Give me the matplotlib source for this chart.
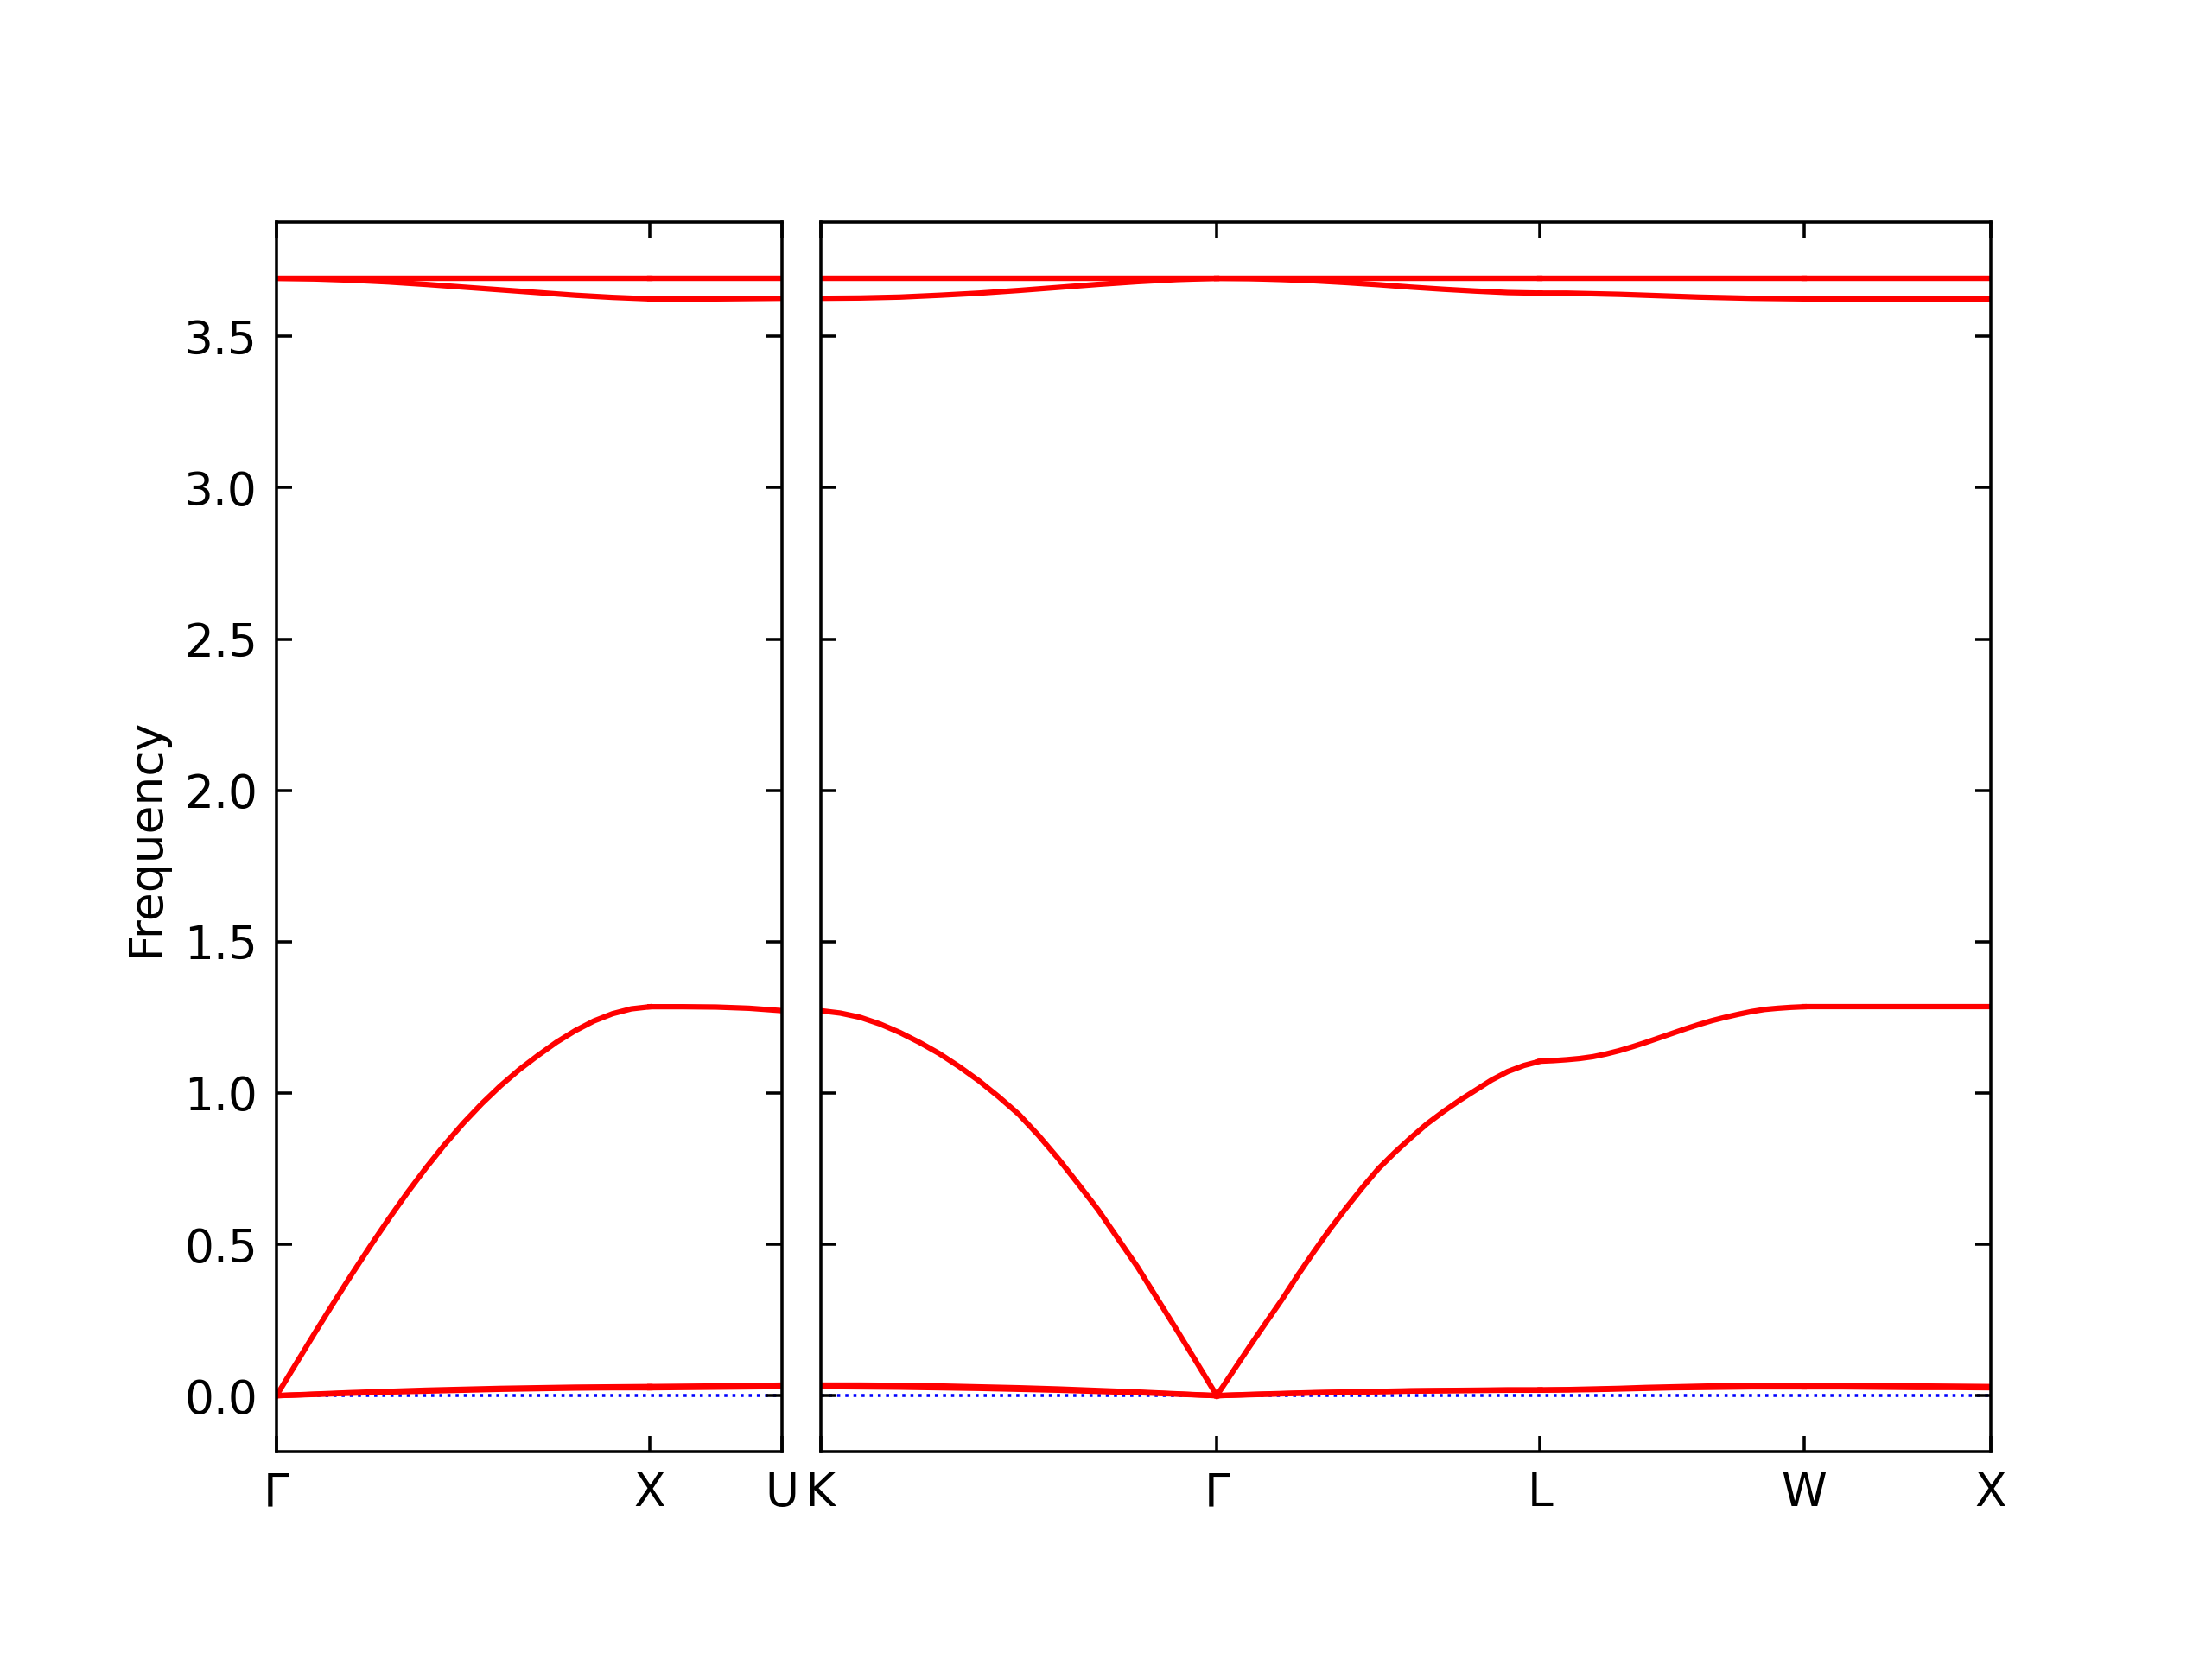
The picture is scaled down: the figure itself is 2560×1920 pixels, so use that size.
import numpy as np
import matplotlib.pyplot as plt

# fcc path, segment lengths in 2pi/a
labels_left = ['Γ', 'X', 'U']
labels_right = ['K', 'Γ', 'L', 'W', 'X']
len_left = [1.0, 0.354]
len_right = [1.061, 0.866, 0.707, 0.5]

# bands per segment: [ta1, ta2, la, opt1, opt2, opt3]
band_GX = [
    [0, 0.004, 0.008, 0.012, 0.015, 0.018, 0.021, 0.023, 0.025, 0.026, 0.026],
    [0, 0.005, 0.010, 0.014, 0.018, 0.021, 0.024, 0.026, 0.028, 0.029, 0.030],
    [0, 0.101, 0.202, 0.301, 0.398, 0.492, 0.583, 0.670, 0.752, 0.829, 0.900,
     0.965, 1.024, 1.077, 1.124, 1.168, 1.206, 1.238, 1.262, 1.278, 1.285],
    [3.692] * 11,
    [3.692] * 11,
    [3.692, 3.690, 3.686, 3.680, 3.672, 3.663, 3.654, 3.645, 3.636, 3.629, 3.624],
]
band_XU = [
    [0.026, 0.027, 0.028, 0.029, 0.030],
    [0.030, 0.031, 0.032, 0.033, 0.035],
    [1.285, 1.285, 1.284, 1.280, 1.272],
    [3.692] * 5,
    [3.692] * 5,
    [3.624, 3.624, 3.624, 3.625, 3.626],
]
band_KG = [
    [0.030, 0.029, 0.028, 0.026, 0.024, 0.021, 0.018, 0.014, 0.010, 0.005, 0],
    [0.035, 0.035, 0.034, 0.032, 0.029, 0.026, 0.022, 0.017, 0.012, 0.006, 0],
    [1.272, 1.264, 1.25, 1.228, 1.20, 1.167, 1.13, 1.087, 1.04, 0.987, 0.93,
     0.86, 0.783, 0.70, 0.615, 0.52, 0.425, 0.32, 0.215, 0.108, 0],
    [3.692] * 11,
    [3.692] * 11,
    [3.626, 3.627, 3.630, 3.636, 3.643, 3.652, 3.662, 3.672, 3.681, 3.688, 3.692],
]
band_GL = [
    [0, 0.003, 0.006, 0.009, 0.011, 0.013, 0.015, 0.016, 0.017, 0.018, 0.018],
    [0, 0.004, 0.007, 0.010, 0.012, 0.014, 0.016, 0.017, 0.018, 0.019, 0.019],
    [0, 0.08, 0.16, 0.238, 0.315, 0.397, 0.475, 0.55, 0.62, 0.687, 0.75,
     0.803, 0.852, 0.898, 0.938, 0.975, 1.009, 1.043, 1.071, 1.091, 1.105],
    [3.692] * 11,
    [3.692] * 11,
    [3.692, 3.691, 3.688, 3.684, 3.678, 3.671, 3.663, 3.656, 3.650, 3.645, 3.643],
]
band_LW = [
    [0.018, 0.019, 0.020, 0.022, 0.024, 0.026, 0.027, 0.028, 0.029, 0.029, 0.029],
    [0.019, 0.020, 0.022, 0.024, 0.027, 0.029, 0.031, 0.033, 0.034, 0.034, 0.034],
    [1.105, 1.107, 1.110, 1.114, 1.120, 1.129, 1.14, 1.153, 1.167, 1.182, 1.197,
     1.212, 1.226, 1.239, 1.25, 1.26, 1.269, 1.276, 1.28, 1.283, 1.285],
    [3.692] * 11,
    [3.692] * 11,
    [3.643, 3.643, 3.641, 3.639, 3.636, 3.633, 3.630, 3.628, 3.626, 3.625, 3.624],
]
band_WX = [
    [0.029, 0.029, 0.028, 0.027, 0.027, 0.026],
    [0.034, 0.034, 0.033, 0.032, 0.031, 0.030],
    [1.285] * 6,
    [3.692] * 6,
    [3.692] * 6,
    [3.624] * 6,
]

yticks = [0.0, 0.5, 1.0, 1.5, 2.0, 2.5, 3.0, 3.5]

plt.rcParams['font.size'] = 12

fig = plt.figure(figsize=(8, 6), dpi=320)
gs = fig.add_gridspec(1, 2, width_ratios=[sum(len_left), sum(len_right)],
                      wspace=0.046, left=0.125, right=0.9, top=0.866, bottom=0.125)
ax0 = fig.add_subplot(gs[0, 0])
ax1 = fig.add_subplot(gs[0, 1])


def draw_path(ax, lengths, segments):
    start = 0.0
    ticks = [0.0]
    for L, bands in zip(lengths, segments):
        for b in bands:
            x = start + np.linspace(0, L, len(b))
            ax.plot(x, b, color='r', lw=1.4)
        start += L
        ticks.append(start)
    ax.axhline(0, color='b', ls=':', lw=0.8, zorder=0)
    ax.set_xlim(0, start)
    return ticks


t0 = draw_path(ax0, len_left, [band_GX, band_XU])
t1 = draw_path(ax1, len_right, [band_KG, band_GL, band_LW, band_WX])

ax0.set_xticks(t0)
ax0.set_xticklabels(labels_left)
ax1.set_xticks(t1)
ax1.set_xticklabels(labels_right)

for ax in [ax0, ax1]:
    ax.set_ylim(-0.185, 3.877)
    ax.set_yticks(yticks)
    ax.tick_params(direction='in', top=True, right=True, length=4, pad=5)
ax1.set_yticklabels([])
ax0.set_ylabel('Frequency')

fig.savefig('out.png', dpi=320)
